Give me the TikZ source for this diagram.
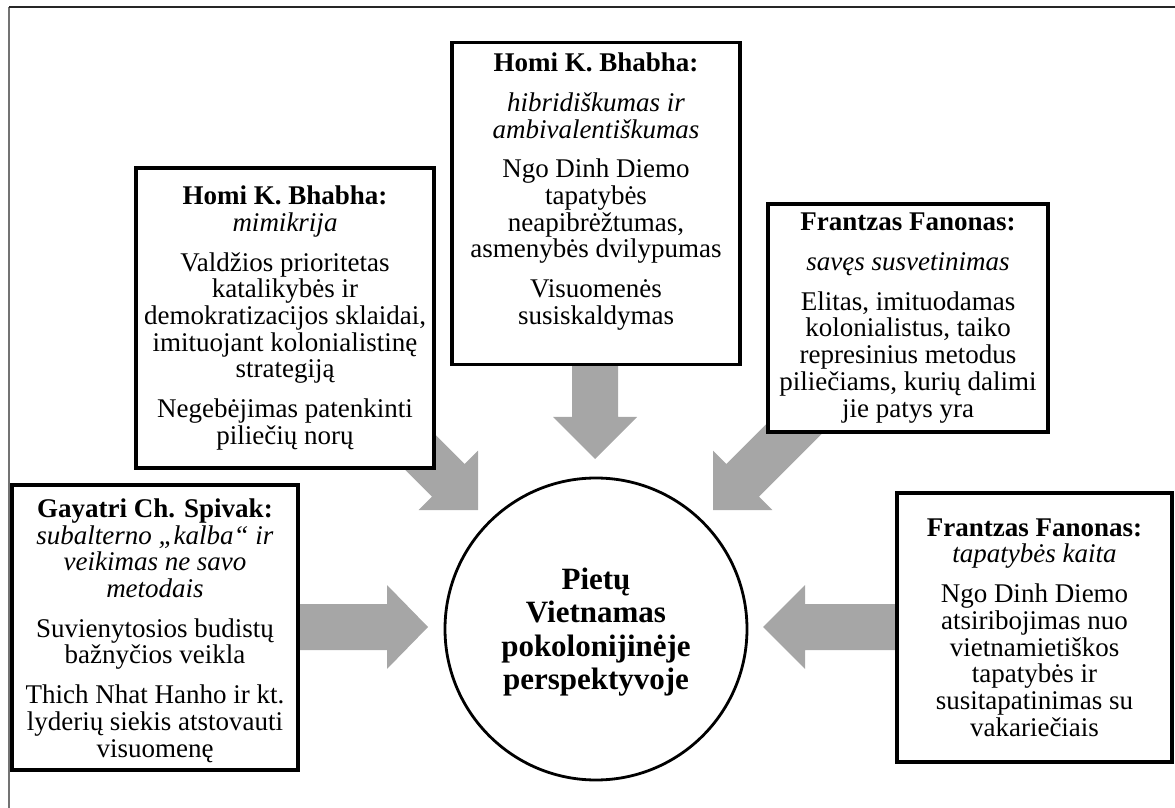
\documentclass[tikz,border=0pt]{standalone}
\usepackage{fontspec}
\setmainfont{Liberation Serif}
\begin{document}
\begin{tikzpicture}[x=0.5pt,y=-0.5pt,
  infobox/.style={draw=black, line width=1.6pt, fill=white, align=center, inner sep=2pt,
    font=\fontsize{13.5}{13.35}\selectfont},
  infotext/.style={align=center, inner sep=0pt, font=\fontsize{13.5}{13.35}\selectfont},
  hub/.style={circle, draw=black, line width=1.4pt, fill=white, align=center,
    minimum size=151pt, inner sep=0pt, font=\fontsize{15.5}{16.7}\selectfont\bfseries},
  blockarrow/.style={fill=gray!70, draw=none},
  frameline/.style={line width=1pt}]
\useasboundingbox (0,0) rectangle (1175,808);
% outer frame
\draw[frameline, draw=black!55] (9,808) -- (9,7);
\draw[frameline, draw=black!85] (9,7) -- (1175,7);

% block arrows (drawn under the boxes)
\fill[blockarrow] (290,604) -- (387,604) -- (387,585) -- (428,627) -- (387,669) -- (387,650) -- (290,650) -- cycle;
\fill[blockarrow] (905,604) -- (805,604) -- (805,585) -- (763,627) -- (805,669) -- (805,650) -- (905,650) -- cycle;
\fill[blockarrow] (572,355) -- (572,417) -- (553,417) -- (595,459) -- (637,417) -- (618,417) -- (618,355) -- cycle;
\fill[blockarrow] (422.2,421.6) -- (464.6,464) -- (478,450.6) -- (478,510) -- (418.6,510) -- (432,496.6) -- (389.6,454.2) -- cycle;
\fill[blockarrow] (836.8,418.8) -- (759,496.6) -- (772.4,510) -- (713,510) -- (713,450.6) -- (726.4,464) -- (804.2,386.2) -- cycle;

% boxes
\node[infobox, minimum width=149pt, minimum height=150pt] (mim) at (285,318)
  {\textbf{Homi K. Bhabha:}\\ \textit{mimikrija}\\[6.5pt]
   Valdžios prioritetas\\ katalikybės ir\\ demokratizacijos sklaidai,\\ imituojant kolonialistinę\\ strategiją\\[6.5pt]
   Negebėjimas patenkinti\\ piliečių norų};
\node[infobox, minimum width=144pt, minimum height=161pt] (hyb) at (596,203.5) {};
\node[infotext, yshift=6pt] (hybtext) at (hyb.center)
  {\textbf{Homi K. Bhabha:}\\[6.5pt] \textit{hibridiškumas ir}\\ \textit{ambivalentiškumas}\\[6.5pt]
   Ngo Dinh Diemo\\ tapatybės\\ neapibrėžtumas,\\ asmenybės dvilypumas\\[6.5pt]
   Visuomenės\\ susiskaldymas};
\node[infobox, minimum width=140pt, minimum height=114pt] (alien) at (908,318)
  {\textbf{Frantzas Fanonas:}\\[6.5pt] \textit{savęs susvetinimas}\\[6.5pt]
   Elitas, imituodamas\\ kolonialistus, taiko\\ represinius metodus\\ piliečiams, kurių dalimi\\ jie patys yra};
\node[infobox, minimum width=143pt, minimum height=142.5pt] (spivak) at (155,627.5) {};
\node[infotext, yshift=-1.5pt] (spivaktext) at (spivak.center)
  {\textbf{Gayatri Ch. Spivak:}\\ \textit{subalterno „kalba“ ir}\\ \textit{veikimas ne savo}\\ \textit{metodais}\\[6.5pt]
   Suvienytosios budistų\\ bažnyčios veikla\\[6.5pt]
   Thich Nhat Hanho ir kt.\\ lyderių siekis atstovauti\\ visuomenę};
\node[infobox, minimum width=137.5pt, minimum height=134.5pt] (ident) at (1034.5,627.5)
  {\textbf{Frantzas Fanonas:}\\ \textit{tapatybės kaita}\\[6.5pt]
   Ngo Dinh Diemo\\ atsiribojimas nuo\\ vietnamietiškos\\ tapatybės ir\\ susitapatinimas su\\ vakariečiais};

% centre
\node[hub] (center) at (596,629) {};
\node[align=center, inner sep=0pt, font=\fontsize{15.5}{16.7}\selectfont\bfseries, yshift=-1.5pt] (centertext) at (center.center)
  {Pietų\\ Vietnamas\\ pokolonijinėje\\ perspektyvoje};
\end{tikzpicture}
\end{document}
